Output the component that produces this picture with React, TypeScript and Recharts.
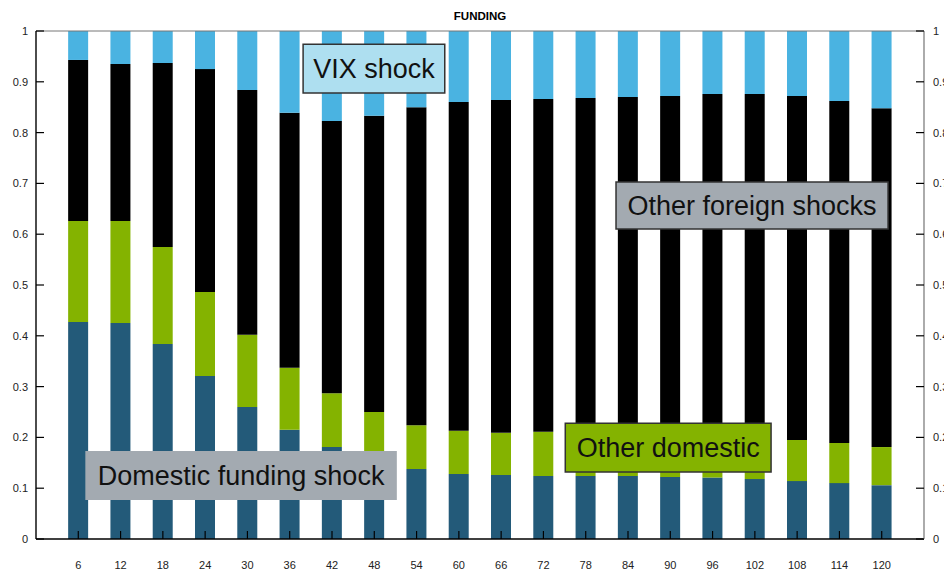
import React from 'react';
import { ComposedChart, Bar, Line, XAxis, YAxis, ReferenceArea, ReferenceLine } from 'recharts';

const horizons = [6, 12, 18, 24, 30, 36, 42, 48, 54, 60, 66, 72, 78, 84, 90, 96, 102, 108, 114, 120];
const domesticFunding = [0.427, 0.425, 0.384, 0.321, 0.26, 0.215, 0.181, 0.16, 0.138, 0.128, 0.126, 0.124, 0.124, 0.124, 0.122, 0.121, 0.118, 0.114, 0.11, 0.106];
const otherDomestic = [0.199, 0.201, 0.191, 0.165, 0.142, 0.122, 0.106, 0.09, 0.086, 0.085, 0.083, 0.087, 0.083, 0.08, 0.079, 0.078, 0.079, 0.081, 0.079, 0.075];
const otherForeign = [0.317, 0.309, 0.362, 0.439, 0.482, 0.502, 0.536, 0.583, 0.626, 0.647, 0.655, 0.655, 0.661, 0.666, 0.671, 0.677, 0.679, 0.677, 0.673, 0.667];
const vixShock = [0.057, 0.065, 0.063, 0.075, 0.116, 0.161, 0.177, 0.167, 0.15, 0.14, 0.136, 0.134, 0.132, 0.13, 0.128, 0.124, 0.124, 0.128, 0.138, 0.152];
const yTicks = [0, 0.1, 0.2, 0.3, 0.4, 0.5, 0.6, 0.7, 0.8, 0.9, 1];
const yTickLabels = ['0', '0.1', '0.2', '0.3', '0.4', '0.5', '0.6', '0.7', '0.8', '0.9', '1'];
const title = 'FUNDING';

const data = horizons.map((h, i) => ({
  h,
  dom: domesticFunding[i],
  odom: otherDomestic[i],
  ofor: otherForeign[i],
  vix: vixShock[i],
}));

const fmtY = (v: number) => {
  const i = yTicks.indexOf(v);
  return i >= 0 ? yTickLabels[i] : String(v);
};

const FONT = '"Liberation Sans", Arial, Helvetica, sans-serif';

export default function App() {
  return (
    <div style={{ position: 'absolute', left: 0, top: 0, width: 944, height: 574, background: '#fff', fontFamily: FONT, overflow: 'hidden' }}>
      <ComposedChart
        width={944}
        height={574}
        data={data}
        margin={{ top: 31, right: 0, bottom: 5, left: 0 }}
        barSize={20}
        style={{ overflow: 'visible' }}
      >
        <text x={480} y={20} textAnchor="middle" fontSize={11.5} fontWeight="bold" fill="#000" fontFamily={FONT}>
          {title}
        </text>
        <XAxis
          dataKey="h"
          type="number"
          domain={[0, 126]}
          ticks={horizons}
          height={30}
          tickSize={-8}
          tickMargin={30}
          axisLine={{ stroke: '#000', strokeWidth: 1.4 }}
          tickLine={{ stroke: '#000', strokeWidth: 1.2 }}
          tick={{ fontSize: 11, fill: '#222' }}
          interval={0}
        />
        <YAxis
          yAxisId="left"
          domain={[0, 1]}
          ticks={yTicks}
          width={36}
          tickSize={-8}
          tickMargin={16}
          tickFormatter={fmtY}
          axisLine={{ stroke: '#000', strokeWidth: 1.4 }}
          tickLine={{ stroke: '#000', strokeWidth: 1.2 }}
          tick={{ fontSize: 11, fill: '#222' }}
          interval={0}
        />
        <YAxis
          yAxisId="right"
          orientation="right"
          domain={[0, 1]}
          ticks={yTicks}
          width={20}
          tickSize={-8}
          tickMargin={17}
          tickFormatter={fmtY}
          axisLine={{ stroke: '#888', strokeWidth: 1.4 }}
          tickLine={{ stroke: '#000', strokeWidth: 1.2 }}
          tick={{ fontSize: 11, fill: '#222' }}
          interval={0}
          allowDataOverflow
        />
        <ReferenceLine yAxisId="left" y={1} stroke="#777" strokeWidth={1} />
        <Bar yAxisId="left" dataKey="dom" stackId="a" fill="#235a79" isAnimationActive={false} />
        <Bar yAxisId="left" dataKey="odom" stackId="a" fill="#84b300" isAnimationActive={false} />
        <Bar yAxisId="left" dataKey="ofor" stackId="a" fill="#000000" isAnimationActive={false} />
        <Bar yAxisId="left" dataKey="vix" stackId="a" fill="#4ab3e1" isAnimationActive={false} />
        <Line
          yAxisId="right"
          dataKey="dom"
          stroke="none"
          strokeOpacity={0}
          dot={false}
          activeDot={false}
          legendType="none"
          isAnimationActive={false}
        />
        <ReferenceArea
          yAxisId="left"
          x1={37.9}
          x2={58.0}
          y1={0.878}
          y2={0.974}
          fill="#aedff0"
          fillOpacity={1}
          stroke="#333"
          strokeWidth={1.5}
          zIndex={1000}
          label={{ value: 'VIX shock', position: 'center', fontSize: 27, fill: '#111' }}
        />
        <ReferenceArea
          yAxisId="left"
          x1={82.3}
          x2={120.9}
          y1={0.610}
          y2={0.703}
          fill="#a3aab1"
          fillOpacity={1}
          stroke="#333"
          strokeWidth={1.5}
          zIndex={1000}
          label={{ value: 'Other foreign shocks', position: 'center', fontSize: 27, fill: '#111' }}
        />
        <ReferenceArea
          yAxisId="left"
          x1={75.1}
          x2={104.3}
          y1={0.132}
          y2={0.228}
          fill="#84b300"
          fillOpacity={1}
          stroke="#333"
          strokeWidth={1.5}
          zIndex={1000}
          label={{ value: 'Other domestic', position: 'center', fontSize: 27, fill: '#111' }}
        />
        <ReferenceArea
          yAxisId="left"
          x1={7.0}
          x2={51.2}
          y1={0.077}
          y2={0.173}
          fill="#a3aab1"
          fillOpacity={1}
          stroke="none"
          zIndex={1000}
          label={{ value: 'Domestic funding shock', position: 'center', fontSize: 27, fill: '#111' }}
        />
      </ComposedChart>
    </div>
  );
}
